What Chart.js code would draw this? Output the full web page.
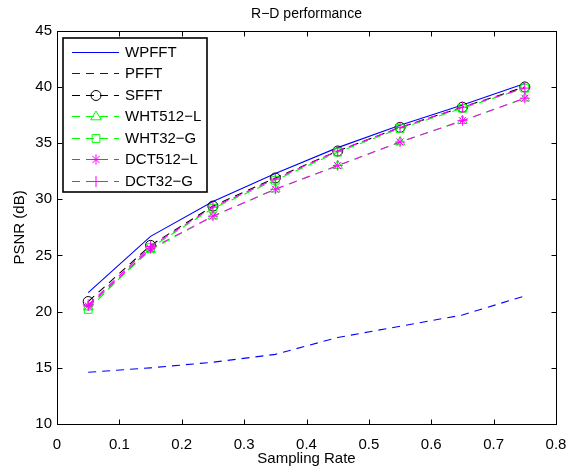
<!DOCTYPE html>
<html>
<head>
<meta charset="utf-8">
<script src="https://cdn.jsdelivr.net/npm/chart.js@4/dist/chart.umd.min.js"></script>
<style>
html,body{margin:0;padding:0;background:#fff;}
#wrap{width:569px;height:473px;}
</style>
</head>
<body>
<div id="wrap"><canvas id="c" width="569" height="473"></canvas></div>
<script>
const samplingRates = [0.05, 0.15, 0.25, 0.35, 0.45, 0.55, 0.65, 0.75];
const seriesNames = ['WPFFT', 'PFFT', 'SFFT', 'WHT512\u2212L', 'WHT32\u2212G', 'DCT512\u2212L', 'DCT32\u2212G'];
const wpfft   = [21.7, 26.7, 29.8, 32.3, 34.6, 36.6, 38.4, 40.3];
const pfft    = [14.6, 15.0, 15.5, 16.2, 17.7, 18.7, 19.7, 21.4];
const sfft    = [20.9, 25.9, 29.4, 31.9, 34.3, 36.4, 38.2, 40.0];
const wht512L = [20.4, 25.5, 28.5, 30.9, 33.0, 35.1, 37.0, 39.0];
const wht32G  = [20.2, 25.7, 29.2, 31.7, 34.2, 36.3, 38.1, 39.9];
const dct512L = [20.5, 25.6, 28.5, 30.9, 33.0, 35.1, 37.0, 39.0];
const dct32G  = [20.6, 25.8, 29.3, 31.8, 34.3, 36.4, 38.2, 39.9];
const xTickLabels = ['0', '0.1', '0.2', '0.3', '0.4', '0.5', '0.6', '0.7', '0.8'];
const yTickLabels = ['10', '15', '20', '25', '30', '35', '40', '45'];

const FONT = '"Liberation Sans", Arial, Helvetica, sans-serif';
const DASH = [8, 6];

const styles = [
  {color: '#0000ff', dash: [], marker: false, radius: 0},
  {color: '#0000ff', dash: DASH, marker: false, radius: 0},
  {color: '#000000', dash: DASH, marker: 'circle', radius: 5},
  {color: '#00ff00', dash: DASH, marker: 'triangle', radius: 5.5},
  {color: '#00ff00', dash: DASH, marker: 'rect', radius: 5.5},
  {color: '#ff00ff', dash: DASH, marker: 'star', radius: 5},
  {color: '#ff00ff', dash: DASH, marker: 'cross', radius: 5.5}
];
const allValues = [wpfft, pfft, sfft, wht512L, wht32G, dct512L, dct32G];

const datasets = allValues.map((vals, i) => ({
  label: seriesNames[i],
  data: vals.map((v, j) => ({x: samplingRates[j], y: v})),
  borderColor: styles[i].color,
  backgroundColor: 'rgba(0,0,0,0)',
  borderWidth: 1.1,
  borderDash: styles[i].dash,
  pointStyle: styles[i].marker,
  pointRadius: styles[i].radius,
  pointBorderColor: styles[i].color,
  pointBackgroundColor: 'rgba(0,0,0,0)',
  pointBorderWidth: 1,
  tension: 0,
  fill: false,
  order: allValues.length - i
}));

function drawMarker(ctx, style, r, x, y, color) {
  ctx.save();
  ctx.strokeStyle = color;
  ctx.lineWidth = 1;
  ctx.setLineDash([]);
  ctx.beginPath();
  if (style === 'circle') {
    ctx.arc(x, y, r, 0, Math.PI * 2);
  } else if (style === 'triangle') {
    const a = r * 1.0;
    ctx.moveTo(x, y - a);
    ctx.lineTo(x + a * 0.95, y + a * 0.6);
    ctx.lineTo(x - a * 0.95, y + a * 0.6);
    ctx.closePath();
  } else if (style === 'rect') {
    const s = r * Math.SQRT1_2;
    ctx.rect(x - s, y - s, 2 * s, 2 * s);
  } else if (style === 'star') {
    for (let k = 0; k < 4; k++) {
      const ang = k * Math.PI / 4;
      ctx.moveTo(x + Math.cos(ang) * r, y + Math.sin(ang) * r);
      ctx.lineTo(x - Math.cos(ang) * r, y - Math.sin(ang) * r);
    }
  } else if (style === 'cross') {
    ctx.moveTo(x - r, y); ctx.lineTo(x + r, y);
    ctx.moveTo(x, y - r); ctx.lineTo(x, y + r);
  }
  ctx.stroke();
  ctx.restore();
}

const framePlugin = {
  id: 'frame',
  afterDatasetsDraw(chart) {
    const ctx = chart.ctx;
    const a = chart.chartArea;
    const xs = chart.scales.x, ys = chart.scales.y;
    ctx.save();
    ctx.strokeStyle = '#000';
    ctx.lineWidth = 1;
    ctx.setLineDash([]);
    const L = Math.round(a.left) + 0.5, R = Math.round(a.right) + 0.5;
    const T = Math.round(a.top) + 0.5, B = Math.round(a.bottom) + 0.5;
    ctx.strokeRect(L, T, R - L, B - T);
    const tl = 5;
    ctx.beginPath();
    xs.ticks.forEach(t => {
      const px = Math.round(xs.getPixelForValue(t.value)) + 0.5;
      ctx.moveTo(px, B); ctx.lineTo(px, B - tl);
      ctx.moveTo(px, T); ctx.lineTo(px, T + tl);
    });
    ys.ticks.forEach(t => {
      const py = Math.round(ys.getPixelForValue(t.value)) + 0.5;
      ctx.moveTo(L, py); ctx.lineTo(L + tl, py);
      ctx.moveTo(R, py); ctx.lineTo(R - tl, py);
    });
    ctx.stroke();
    ctx.restore();

    // legend
    ctx.save();
    const lx = Math.round(a.left) + 6, ly = Math.round(a.top) + 7;
    const lw = 144, lh = 154;
    ctx.fillStyle = '#fff';
    ctx.fillRect(lx, ly, lw, lh);
    ctx.lineWidth = 1.6;
    ctx.strokeStyle = '#000';
    ctx.strokeRect(lx, ly, lw, lh);
    ctx.restore();
    chart.data.datasets.forEach((ds, i) => {
      const y = Math.round(ly + 13.7 + i * 21.5) + 0.5;
      const st = styles[i];
      ctx.save();
      ctx.lineWidth = 1.1;
      ctx.strokeStyle = st.color;
      ctx.setLineDash(st.dash);
      ctx.beginPath();
      ctx.moveTo(lx + 9, y);
      ctx.lineTo(lx + 56, y);
      ctx.stroke();
      ctx.restore();
      if (st.marker) drawMarker(ctx, st.marker, st.radius, lx + 33, y, st.color);
      ctx.save();
      ctx.font = '15px ' + FONT;
      ctx.textBaseline = 'middle';
      ctx.textAlign = 'left';
      ctx.fillStyle = '#000';
      ctx.fillText(ds.label, lx + 62, y + 0.5);
      ctx.restore();
    });
  }
};

new Chart(document.getElementById('c'), {
  type: 'line',
  data: {datasets},
  options: {
    responsive: false,
    animation: false,
    devicePixelRatio: 1,
    layout: {padding: {left: 0, right: 13, top: 0, bottom: 0}},
    plugins: {
      legend: {display: false},
      tooltip: {enabled: false},
      title: {
        display: true,
        fullSize: false,
        text: 'R\u2212D performance',
        color: '#000',
        font: {family: FONT, size: 14, weight: 'normal'},
        padding: {top: 6, bottom: 8}
      }
    },
    scales: {
      x: {
        type: 'linear',
        min: 0, max: 0.8,
        afterFit(s) { s.height = 49; s.paddingLeft = 0; s.paddingRight = 0; },
        afterBuildTicks(s) { s.ticks = xTickLabels.map(t => ({value: parseFloat(t)})); },
        ticks: {
          autoSkip: false,
          maxRotation: 0,
          padding: 12,
          color: '#000',
          font: {family: FONT, size: 15},
          callback: (v, i) => xTickLabels[i]
        },
        grid: {display: false, drawTicks: false},
        border: {display: false},
        title: {
          display: true, text: 'Sampling Rate', color: '#000',
          font: {family: FONT, size: 15},
          padding: {top: 0, bottom: 5}
        }
      },
      y: {
        type: 'linear',
        min: 10, max: 45,
        afterFit(s) { s.width = 57; s.paddingTop = 0; s.paddingBottom = 0; },
        afterBuildTicks(s) { s.ticks = yTickLabels.map(t => ({value: parseFloat(t)})); },
        ticks: {
          autoSkip: false,
          padding: 5,
          color: '#000',
          font: {family: FONT, size: 15},
          callback: (v, i) => yTickLabels[i]
        },
        grid: {display: false, drawTicks: false},
        border: {display: false},
        title: {
          display: true, text: 'PSNR (dB)', color: '#000',
          font: {family: FONT, size: 15},
          padding: {top: 11, bottom: 0}
        }
      }
    }
  },
  plugins: [framePlugin]
});
</script>
</body>
</html>
